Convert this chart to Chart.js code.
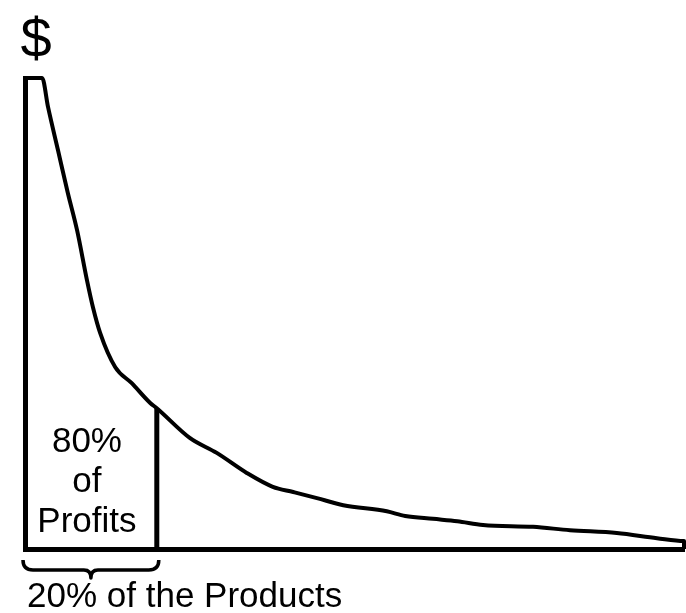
<!DOCTYPE html>
<html>
<head>
<meta charset="utf-8">
<script src="https://cdn.jsdelivr.net/npm/chart.js@4"></script>
<style>
    body { margin: 0; background: #fff; }
    #wrap { width: 686px; height: 613px; position: relative; }
</style>
</head>
<body>
<div id="wrap"><canvas id="pareto-chart"></canvas></div>
<script>
// share of products (%) along the x axis, profit level along the y axis
const productShare = [0, 2.6, 3.5, 5.0, 6.5, 7.9, 9.4, 10.3, 11.4, 13.7, 16.2, 19.0, 20.0, 25.0, 29.1, 33.7,
    37.6, 40.7, 44.3, 48.3, 54.9, 57.7, 61.9, 65.6, 69.5, 77.1, 82.7, 89.8, 95.9, 100, 100];
const profitLevel = [100, 100, 93.8, 84.7, 75.6, 67.7, 57.1, 51.4, 45.9, 38.6, 35.2, 31.0, 29.9, 23.6, 20.4, 16.1,
    13.2, 12.1, 10.8, 9.3, 8.0, 7.0, 6.4, 5.9, 5.1, 4.7, 4.0, 3.4, 2.3, 1.7, 0];

const cutoffShare = 20;
const cutoffProfit = 29.9;

const yAxisLabel = '$';
const xAxisLabel = '20% of the Products';
const areaLabel = ['80%', 'of', 'Profits'];

const FONT = "'Liberation Sans', Arial, sans-serif";

const curveData = productShare.map((x, i) => ({x: x, y: profitLevel[i]}));
const cutoffData = [{x: cutoffShare, y: 0}, {x: cutoffShare, y: cutoffProfit}];

const annotations = {
    id: 'annotations',
    afterDraw(chart) {
        const c = chart.ctx;
        const xs = chart.scales.x;
        const area = chart.chartArea;
        c.save();
        c.fillStyle = '#000';
        c.strokeStyle = '#000';

        // "$" above the y axis
        c.font = '56px ' + FONT;
        c.textAlign = 'center';
        c.textBaseline = 'alphabetic';
        c.fillText(yAxisLabel, area.left + 11, area.top - 21);

        // label inside the first 20%
        c.font = '35px ' + FONT;
        const mid = xs.getPixelForValue(cutoffShare * 0.47);
        areaLabel.forEach((line, i) => {
            c.fillText(line, mid, area.bottom - 97 + i * 40);
        });

        // brace under the first 20%
        const x0 = xs.getPixelForValue(0) - 2;
        const x1 = xs.getPixelForValue(cutoffShare) + 2;
        const xm = (x0 + x1) / 2;
        const top = area.bottom + 11;
        const flat = area.bottom + 21;
        const tip = area.bottom + 29;
        c.lineWidth = 3.5;
        c.lineJoin = 'round';
        c.beginPath();
        c.moveTo(x0, top);
        c.quadraticCurveTo(x0, flat, x0 + 10, flat);
        c.lineTo(xm - 7, flat);
        c.quadraticCurveTo(xm, flat, xm, tip);
        c.quadraticCurveTo(xm, flat, xm + 7, flat);
        c.lineTo(x1 - 10, flat);
        c.quadraticCurveTo(x1, flat, x1, top);
        c.stroke();

        // x axis caption
        c.textAlign = 'left';
        c.fillText(xAxisLabel, area.left + 2, area.bottom + 58);
        c.restore();
    }
};

const paretoChart = new Chart(document.getElementById('pareto-chart'), {
    type: 'line',
    data: {
        datasets: [
            {
                data: curveData,
                borderColor: '#000',
                borderWidth: 4,
                pointRadius: 0,
                cubicInterpolationMode: 'monotone',
                fill: false,
                clip: false,
                borderJoinStyle: 'round'
            },
            {
                data: cutoffData,
                borderColor: '#000',
                borderWidth: 5,
                pointRadius: 0,
                fill: false,
                clip: false
            }
        ]
    },
    options: {
        responsive: true,
        maintainAspectRatio: false,
        animation: false,
        layout: {
            padding: {left: 25, right: 2, top: 78, bottom: 64}
        },
        scales: {
            x: {
                type: 'linear',
                min: 0,
                max: 100,
                grid: {display: false, drawTicks: false},
                ticks: {display: false},
                border: {display: true, width: 5, color: '#000'}
            },
            y: {
                type: 'linear',
                min: 0,
                max: 100,
                grid: {display: false, drawTicks: false},
                ticks: {display: false},
                border: {display: true, width: 5, color: '#000'}
            }
        },
        plugins: {
            legend: {display: false},
            tooltip: {enabled: false},
            title: {display: false}
        }
    },
    plugins: [annotations]
});
</script>
</body>
</html>
